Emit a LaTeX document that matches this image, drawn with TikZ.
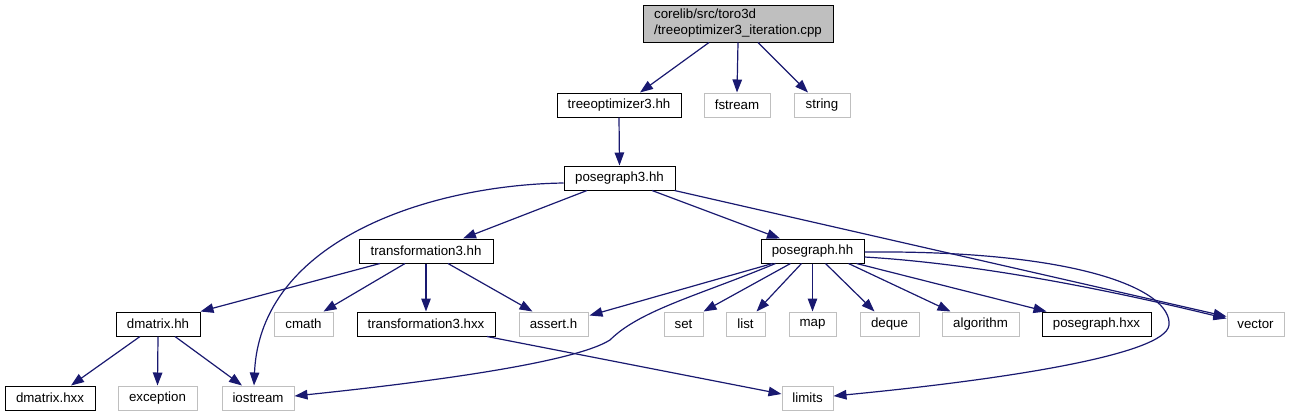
\documentclass[tikz,border=0pt]{standalone}
\usepackage{fontspec}
\setmainfont{Liberation Sans}
\usetikzlibrary{arrows.meta,calc}
\definecolor{edgec}{HTML}{191970}
\definecolor{lgray}{HTML}{BFBFBF}
\begin{document}
\begin{tikzpicture}[x=1pt,y=-1pt,
  box/.style={draw=black, line width=1pt, minimum height=24pt, inner sep=0pt, font=\fontsize{13.3}{16}\selectfont},
  sys/.style={box, draw=lgray},
  arr/.style={draw=edgec, line width=1.2pt, -{Triangle[length=13pt,width=9.5pt]}}]
\useasboundingbox (0,0) rectangle (1290,416);
% nodes
\node[box, fill=lgray, minimum width=190pt, minimum height=37pt, align=left] (top) at (738,23.5) {corelib/src/toro3d\\/treeoptimizer3\_iteration.cpp};
\node[box, minimum width=124pt] (treeopt) at (619,105) {treeoptimizer3.hh};
\node[sys, minimum width=66pt] (fstream) at (737,105) {fstream};
\node[sys, minimum width=56pt] (string) at (822,105) {string};
\node[box, minimum width=111pt] (pg3) at (619.5,178) {posegraph3.hh};
\node[box, minimum width=134pt] (tr3) at (426,251) {transformation3.hh};
\node[box, minimum width=103pt] (pg) at (812.5,251) {posegraph.hh};
\node[box, minimum width=84pt] (dm) at (158,324) {dmatrix.hh};
\node[sys, minimum width=59pt] (cmath) at (303.5,324) {cmath};
\node[box, minimum width=138pt] (tr3x) at (426,324) {transformation3.hxx};
\node[sys, minimum width=69pt] (assert) at (553.5,324) {assert.h};
\node[sys, minimum width=39pt] (set) at (683.5,324) {set};
\node[sys, minimum width=39pt] (list) at (745.5,324) {list};
\node[sys, minimum width=47pt] (map) at (812.5,324) {map};
\node[sys, minimum width=59pt] (deque) at (889.5,324) {deque};
\node[sys, minimum width=77pt] (algo) at (980.5,324) {algorithm};
\node[box, minimum width=109pt] (pgx) at (1096.5,324) {posegraph.hxx};
\node[sys, minimum width=57pt] (vector) at (1255.5,324) {vector};
\node[box, minimum width=90pt] (dmx) at (50,398) {dmatrix.hxx};
\node[sys, minimum width=79pt] (exc) at (157.5,398) {exception};
\node[sys, minimum width=72pt] (ios) at (258,398) {iostream};
\node[sys, minimum width=51pt] (limits) at (807.5,398) {limits};
% edges
\draw[arr] ($(top.south)+(-29,0)$) -- ($(treeopt.north)+(21,0)$);
\draw[arr] (top.south) -- (fstream.north);
\draw[arr] ($(top.south)+(20,0)$) -- ($(string.north)+(-14,0)$);
\draw[arr] (treeopt.south) -- (pg3.north);
\draw[arr] ($(pg3.west)+(0,5)$) .. controls (430,185) and (260,240) .. ($(ios.north)+(-4,0)$);
\draw[arr] ($(pg3.south)+(-32.5,0)$) -- ($(tr3.north)+(37,0)$);
\draw[arr] ($(pg3.south)+(32.5,0)$) -- ($(pg.north)+(-32.5,0)$);
\draw[arr] ($(pg3.south east)+(-1,0)$) -- ($(vector.north west)+(0,5)$);
\draw[arr] ($(tr3.south)+(-46,0)$) -- (dm.north east);
\draw[arr] ($(tr3.south)+(-21,0)$) -- ($(cmath.north)+(20,0)$);
\draw[arr] (tr3.south) -- (tr3x.north);
\draw[arr] ($(tr3.south)+(22,0)$) -- ($(assert.north)+(-21,0)$);
\draw[arr] ($(tr3x.south)+(61,0)$) -- ($(limits.west)+(0,-4)$);
\draw[arr] ($(dm.south)+(-18,0)$) -- ($(dmx.north)+(21,0)$);
\draw[arr] (dm.south) -- (exc.north);
\draw[arr] ($(dm.south)+(17,0)$) -- ($(ios.north)+(-16,0)$);
\draw[arr] ($(pg.south)+(-40,0)$) -- ($(assert.north east)+(1,4)$);
\draw[arr] ($(pg.south)+(-37,0)$) .. controls (700,295) and (640,310) .. (610,340) .. controls (570,365) and (400,385) .. ($(ios.east)+(0,-2)$);
\draw[arr] ($(pg.south)+(-22,0)$) -- (set.north east);
\draw[arr] ($(pg.south)+(-11,0)$) -- ($(list.north)+(11,0)$);
\draw[arr] (pg.south) -- (map.north);
\draw[arr] ($(pg.south)+(13,0)$) -- ($(deque.north)+(-15,0)$);
\draw[arr] ($(pg.south)+(36,0)$) -- ($(algo.north)+(-30,0)$);
\draw[arr] ($(pg.south east)+(-8,0)$) -- ($(pgx.north)+(-50,0)$);
\draw[arr] ($(pg.east)+(0,6)$) .. controls (1000,265) and (1150,300) .. ($(vector.north west)+(0,7)$);
\draw[arr] ($(pg.east)+(0,1)$) .. controls (1080,250) and (1172,290) .. (1169,325) .. controls (1166,355) and (1000,380) .. ($(limits.east)+(0,-2)$);
\end{tikzpicture}
\end{document}
